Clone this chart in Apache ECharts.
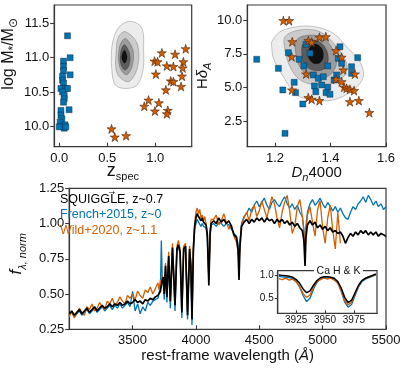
<!DOCTYPE html>
<html>
<head>
<meta charset="utf-8">
<script src="https://cdn.jsdelivr.net/npm/echarts@6/dist/echarts.min.js"></script>
<style>
html, body { margin: 0; padding: 0; background: #fff; }
#chart { width: 407px; height: 372px; }
</style>
</head>
<body>
<div id="chart"></div>
<script>
// ---- top left: stellar mass vs redshift ----
var frenchZ    = [0.087, 0.114, 0.114, 0.045, 0.045, 0.045, 0.035, 0.035, 0.045, 0.018, 0.069, 0.087, 0.035, 0.052, 0.052, 0.045, 0.103, 0.018, 0.018, 0.028, 0.010, 0.018, 0.060, 0.052, 0.069, 0.000];
var frenchMass = [11.32, 11.00, 10.75, 10.95, 10.87, 10.81, 10.73, 10.67, 10.63, 10.55, 10.55, 10.55, 10.50, 10.45, 10.40, 10.35, 10.24, 10.23, 10.16, 10.11, 10.06, 10.00, 10.02, 9.97, 9.99, 9.99];
var wildZ    = [1.317, 1.069, 1.207, 0.993, 1.024, 1.293, 1.121, 1.189, 1.286, 1.007, 1.279, 1.162, 1.189, 1.269, 1.111, 0.931, 1.038, 0.886, 1.131, 0.997, 1.121, 0.545, 0.579, 0.697];
var wildMass = [11.13, 11.07, 11.05, 10.95, 10.94, 10.94, 10.88, 10.87, 10.85, 10.76, 10.73, 10.66, 10.65, 10.58, 10.53, 10.38, 10.34, 10.29, 10.23, 10.22, 10.18, 9.96, 9.84, 9.86];
// SQUIGGLE density contours (outer -> inner), [z, logM]
var kdeMass = [
  [[0.759, 11.53], [0.862, 11.43], [0.879, 11.11], [0.873, 10.82], [0.811, 10.60], [0.690, 10.55], [0.586, 10.60], [0.552, 10.77], [0.545, 11.11], [0.586, 11.36], [0.656, 11.49]],
  [[0.690, 11.38], [0.811, 11.21], [0.817, 10.87], [0.724, 10.65], [0.604, 10.77], [0.594, 11.11], [0.620, 11.31]],
  [[0.690, 11.28], [0.769, 11.11], [0.759, 10.87], [0.700, 10.75], [0.628, 10.87], [0.628, 11.16]],
  [[0.679, 11.19], [0.734, 11.06], [0.728, 10.89], [0.683, 10.82], [0.638, 10.92], [0.641, 11.09]],
  [[0.679, 11.11], [0.707, 11.01], [0.683, 10.92], [0.651, 11.00]]
];

// ---- top right: Hdelta_A vs Dn4000 ----
var frenchDn = [1.134, 1.212, 1.248, 1.269, 1.228, 1.274, 1.287, 1.304, 1.300, 1.312, 1.338, 1.342, 1.356, 1.347, 1.374, 1.368, 1.390, 1.384, 1.398, 1.390, 1.413, 1.428, 1.434, 1.440, 1.476, 1.476, 1.498, 1.236, 1.326, 1.422];
var frenchHd = [7.09, 6.42, 7.58, 5.39, 4.82, 4.62, 7.09, 6.60, 3.78, 8.20, 5.93, 5.11, 5.68, 4.69, 5.80, 5.19, 5.02, 4.62, 4.50, 6.60, 5.56, 7.16, 8.02, 6.79, 6.54, 6.05, 7.21, 1.61, 7.54, 5.93];
var wildDn = [1.230, 1.251, 1.262, 1.320, 1.332, 1.360, 1.383, 1.260, 1.312, 1.261, 1.320, 1.332, 1.360, 1.420, 1.440, 1.446, 1.420, 1.440, 1.449, 1.458, 1.470, 1.485, 1.488, 1.470, 1.502, 1.540];
var wildHd = [9.95, 9.95, 8.39, 8.47, 8.35, 8.72, 8.76, 7.28, 6.00, 4.82, 4.25, 4.13, 4.03, 7.73, 7.24, 6.30, 5.61, 5.43, 5.02, 4.94, 4.87, 4.77, 6.00, 3.95, 4.03, 3.14];
var kdeIdx = [
  [[1.188, 8.39], [1.218, 9.13], [1.278, 9.50], [1.344, 9.50], [1.410, 9.02], [1.458, 8.02], [1.506, 6.91], [1.518, 5.80], [1.482, 4.82], [1.410, 4.08], [1.338, 4.08], [1.278, 4.45], [1.230, 5.80], [1.194, 7.17], [1.188, 8.02]],
  [[1.236, 8.76], [1.290, 9.26], [1.362, 9.13], [1.422, 8.02], [1.458, 6.80], [1.452, 5.93], [1.410, 5.32], [1.350, 5.19], [1.290, 5.56], [1.254, 6.54], [1.236, 7.78]],
  [[1.278, 8.52], [1.326, 8.89], [1.374, 8.65], [1.410, 7.78], [1.422, 6.80], [1.398, 5.93], [1.350, 5.69], [1.302, 6.17], [1.278, 7.17]],
  [[1.302, 8.28], [1.338, 8.52], [1.374, 8.15], [1.392, 7.28], [1.380, 6.43], [1.344, 6.25], [1.308, 6.67], [1.296, 7.54]],
  [[1.344, 8.22], [1.368, 7.91], [1.374, 7.28], [1.362, 6.84], [1.338, 6.80], [1.320, 7.28], [1.324, 7.91]]
];

// ---- bottom: stacked spectra ----
var wave = [
  3000, 3020, 3040, 3060, 3080, 3100, 3120, 3140, 3160, 3180, 3200, 3220, 3240, 3260, 3280, 3300, 3320, 3340, 3360, 3380, 3400, 3420, 3440, 3460, 3480, 3500, 3520, 3540, 3560, 3580, 3600, 3620, 3640, 3660, 3680, 3700,
  3710, 3720, 3727, 3735, 3742, 3750, 3760, 3771, 3785, 3798, 3815, 3835, 3850, 3862, 3875, 3889, 3903, 3918, 3934, 3950, 3960, 3969, 3980, 3990, 4000, 4010, 4020, 4030, 4040, 4050, 4060, 4070, 4080, 4090, 4102, 4112, 4120,
  4140, 4160, 4180, 4200, 4220, 4240, 4260, 4280, 4300, 4320, 4332, 4340, 4348, 4360, 4380, 4400, 4420, 4440, 4460, 4480, 4500, 4520, 4540, 4560, 4580, 4600, 4620, 4640, 4660, 4680, 4700, 4720, 4740, 4760, 4780, 4800, 4820, 4840, 4852, 4861, 4868, 4880, 4900, 4920, 4940, 4960, 4980, 5000, 5020, 5040, 5060, 5080, 5100, 5120, 5140, 5160, 5180, 5200, 5220, 5240, 5260, 5280, 5300, 5320, 5340, 5360, 5380, 5400, 5420, 5440, 5460, 5480, 5500
];
var squiggle = [
  .36, .38, .35, .37, .39, .36, .38, .40, .37, .39, .41, .38, .40, .42, .40, .41, .43, .41, .43, .42, .44, .42, .43, .45, .43, .44, .46, .44, .45, .43, .46, .45, .47, .46, .48, .49,
  .50, .52, .53, .60, .62, .50, .70, .48, .77, .45, .83, .42, .82, .85, .80, .37, .82, .84, .35, .82, .70, .32, .82, .98, 1.04, 1.07, 1.05, 1.06, 1.02, 1.04, 1.01, 1.02, .99, .92, .56, .93, 1.00,
  1.02, 1.00, 1.04, 1.01, 1.03, 1.00, 1.02, .98, .92, .90, .82, .60, .84, .98, 1.01, 1.03, 1.00, 1.03, 1.01, 1.04, 1.02, 1.04, 1.01, 1.04, 1.02, 1.03, 1.00, 1.03, 1.01, 1.03, 1.00, 1.02, .99, 1.01, .98, 1.00, .97, .95, .88, .70, .90, .99, 1.02, .99, 1.01, .97, .99, .96, .98, .95, .97, .94, .95, .93, .94, .91, .86, .90, .93, .91, .94, .92, .95, .93, .95, .92, .94, .92, .94, .91, .93, .92, .91
];
var french = [
  .35, .37, .34, .36, .38, .35, .37, .39, .36, .38, .40, .37, .39, .41, .38, .40, .42, .39, .42, .40, .43, .40, .42, .44, .41, .52, .38, .43, .36, .41, .38, .44, .42, .45, .46, .47,
  .48, .55, .88, .58, .60, .46, .68, .44, .76, .40, .82, .38, .80, .84, .78, .33, .80, .82, .32, .80, .66, .28, .80, .96, 1.00, 1.03, 1.01, 1.02, .98, 1.00, .98, .99, .97, .90, .60, .92, .99,
  1.00, .98, 1.01, 1.00, .98, 1.00, .99, .96, .93, .91, .86, .78, .88, 1.00, 1.05, 1.07, 1.11, 1.08, 1.13, 1.16, 1.12, 1.15, 1.18, 1.13, 1.10, 1.15, 1.17, 1.14, 1.12, 1.16, 1.19, 1.14, 1.11, 1.14, 1.10, 1.13, 1.08, 1.05, .96, .78, .98, 1.08, 1.14, 1.17, 1.13, 1.15, 1.18, 1.14, 1.11, 1.15, 1.12, 1.09, 1.12, 1.08, 1.11, 1.07, 1.04, 1.03, 1.08, 1.12, 1.10, 1.14, 1.16, 1.19, 1.15, 1.20, 1.17, 1.13, 1.16, 1.12, 1.14, 1.10, 1.12
];
var wild = [
  .34, .38, .33, .36, .40, .37, .35, .41, .39, .43, .38, .40, .44, .41, .39, .45, .43, .47, .42, .44, .48, .45, .43, .49, .47, .50, .46, .52, .49, .47, .53, .51, .55, .50, .54, .58,
  .53, .60, .56, .63, .64, .52, .72, .50, .80, .47, .86, .44, .84, .88, .82, .40, .84, .86, .38, .84, .72, .34, .84, 1.00, 1.08, 1.11, 1.07, 1.10, 1.04, 1.06, 1.02, 1.05, 1.00, .93, .60, .95, 1.03,
  1.03, 1.06, .99, 1.02, 1.07, 1.01, .96, .99, .91, .87, .80, .72, .86, .99, 1.04, 1.08, 1.02, 1.10, 1.13, 1.05, 1.09, 1.16, 1.10, 1.04, 1.12, 1.19, 1.14, 1.04, .97, 1.08, 1.15, 1.20, 1.09, .93, .98, 1.12, 1.17, 1.05, .94, .78, .92, 1.06, 1.12, 1.01, .91, 1.10, 1.16, .97, .86, 1.04, 1.13, .95, .82, 1.08, .86
];

// inset: Ca H & K
var insetWave = [3910, 3913, 3916, 3919, 3922, 3925, 3928, 3931, 3934, 3937, 3940, 3943, 3946, 3949, 3952, 3955, 3958, 3961, 3964, 3967, 3970, 3973, 3976, 3979, 3982, 3985, 3988, 3991, 3994];
var insetSquiggle = [1.00, .99, .98, .97, .95, .90, .82, .70, .62, .66, .78, .88, .94, .96, .96, .95, .93, .86, .72, .52, .41, .46, .62, .78, .88, .93, .96, .99, 1.02];
var insetFrench   = [.97, .96, .95, .94, .92, .86, .74, .56, .43, .50, .70, .84, .91, .93, .94, .93, .91, .83, .65, .42, .31, .37, .56, .74, .86, .91, .94, .97, 1.00];
var insetWild     = [.92, .90, .93, .89, .91, .85, .76, .60, .52, .57, .74, .86, .90, .94, .91, .93, .89, .82, .66, .46, .36, .42, .60, .76, .88, .92, .95, .98, 1.01];

// tick labels
var zTicks = [0, 0.5, 1.0];
var massTicks = [10.0, 10.5, 11.0, 11.5];
var dnTicks = [1.2, 1.4, 1.6];
var hdTicks = [2.5, 5.0, 7.5, 10.0];
var waveTicks = [3500, 4000, 4500, 5000, 5500];
var fluxTicks = [0.25, 0.50, 0.75, 1.00, 1.25];
var insetWaveTicks = [3925, 3950, 3975];
var insetFluxTicks = [0.5, 1.0];

// ---- styles ----
var font = "'Liberation Sans', Arial, 'DejaVu Sans', sans-serif";
var frame = '#383838';
var txt = '#111';
var blue = '#0173B2';
var orange = '#D55E00';
var kdeColors = ['#ececec', '#cbcbcb', '#9c9c9c', '#5c5c5c', '#111111'];
var starPath = 'path://M50 0L61.2 34.5H97.6L68.2 55.9L79.4 90.5L50 69.1L20.6 90.5L31.8 55.9L2.4 34.5H38.8Z';

function zip(xs, ys) {
  var out = [];
  for (var i = 0; i < xs.length; i++) {
    if (ys[i] != null) out.push([xs[i], ys[i]]);
  }
  return out;
}

var rich = {
  n:  { fontSize: 15, fontFamily: font, color: txt, verticalAlign: 'bottom', padding: [0, 0, 3, 0] },
  ni: { fontSize: 15, fontFamily: font, color: txt, fontStyle: 'italic', verticalAlign: 'bottom', padding: [0, 0, 3, 0] },
  nb: { fontSize: 16, fontFamily: font, color: txt, verticalAlign: 'bottom', padding: [0, 0, 3, 0] },
  fb: { fontSize: 17, fontFamily: font, color: txt, fontStyle: 'italic', verticalAlign: 'bottom', padding: [0, 0, 3, 0] },
  zb: { fontSize: 18, fontFamily: font, color: txt, verticalAlign: 'bottom', padding: [0, 0, 3, 0] },
  s:  { fontSize: 11, fontFamily: font, color: txt, verticalAlign: 'bottom' },
  sb: { fontSize: 12, fontFamily: font, color: txt, verticalAlign: 'bottom' },
  si: { fontSize: 11, fontFamily: font, color: txt, fontStyle: 'italic', verticalAlign: 'bottom' }
};

function axis(grid, min, max, ticks, digits, inside, opt) {
  opt = opt || {};
  var fs = opt.fontSize || 13;
  var ax = {
    type: 'value', gridIndex: grid, min: min, max: max,
    splitLine: { show: false },
    axisLine: { show: true, onZero: false, lineStyle: { color: frame, width: 1.2 } },
    axisTick: { show: true, inside: inside, length: opt.tick || 4, customValues: ticks, lineStyle: { color: frame, width: 1.1 } },
    axisLabel: {
      customValues: ticks, margin: opt.margin || 5, color: txt, fontSize: fs, fontFamily: font,
      formatter: function (v) { return v.toFixed(digits); }
    },
    name: opt.name || '', nameLocation: 'middle', nameGap: opt.gap || 20,
    nameTextStyle: { rich: rich, fontFamily: font, fontSize: 15, color: txt, padding: opt.pad || 0 }
  };
  if (opt.fixed) ax.nameMoveOverlap = false;
  return ax;
}

function contour(levels, xi, yi) {
  return {
    type: 'custom', xAxisIndex: xi, yAxisIndex: yi, silent: true, clip: true, z: 1,
    data: levels.map(function (l) { return l[0]; }),
    renderItem: function (params, api) {
      var pts = levels[params.dataIndex].map(function (p) { return api.coord(p); });
      return {
        type: 'polygon',
        shape: { points: pts, smooth: 0.35 },
        style: { fill: kdeColors[params.dataIndex], stroke: 'rgba(0,0,0,0.35)', lineWidth: 0.6 }
      };
    }
  };
}

function squares(xs, ys, xi, yi) {
  return {
    type: 'scatter', xAxisIndex: xi, yAxisIndex: yi, z: 3,
    symbol: 'rect', symbolSize: 6,
    itemStyle: { color: blue, borderColor: '#123', borderWidth: 0.4, opacity: 1 },
    data: zip(xs, ys)
  };
}

function stars(xs, ys, xi, yi) {
  return {
    type: 'scatter', xAxisIndex: xi, yAxisIndex: yi, z: 4,
    symbol: starPath, symbolSize: 9,
    itemStyle: { color: orange, borderColor: '#4a2208', borderWidth: 0.6, opacity: 1 },
    data: zip(xs, ys)
  };
}

function spec(xs, ys, color, width, xi, yi) {
  return {
    type: 'line', xAxisIndex: xi, yAxisIndex: yi, showSymbol: false, symbol: 'none',
    lineStyle: { color: color, width: width }, data: zip(xs, ys)
  };
}

var chart = echarts.init(document.getElementById('chart'));
chart.setOption({
  animation: false,
  backgroundColor: '#fff',
  grid: [
    { left: 53.3, top: 5, width: 138.4, height: 141.7, show: true, borderColor: frame, borderWidth: 1.2 },
    { left: 247.3, top: 5, width: 138.7, height: 141.7, show: true, borderColor: frame, borderWidth: 1.2 },
    { left: 53.3, top: 188.3, width: 332.7, height: 141, show: true, borderColor: frame, borderWidth: 1.2 },
    { left: 277.7, top: 270.7, width: 99.3, height: 42.6, show: true, borderColor: frame, borderWidth: 1.2, backgroundColor: '#fff' }
  ],
  xAxis: [
    axis(0, -0.052, 1.38, zTicks, 1, true, { name: '{zb|z}{s|spec}', gap: 15, fixed: true }),
    axis(1, 1.1, 1.6, dnTicks, 1, true, { name: '{ni|D}{si|n}{n|4000}', gap: 15 }),
    axis(2, 3000, 5500, waveTicks, 0, true, { name: '{n|rest-frame wavelength (}{ni|Å}{n|)}', gap: 18 }),
    axis(3, 3909, 3995, insetWaveTicks, 0, true, { fontSize: 10, margin: 2, tick: 3 })
  ],
  yAxis: [
    axis(0, 9.7, 11.77, massTicks, 1, false, { name: '{nb|log M}{sb|*}{nb|/M}{sb|⊙}', gap: 31, pad: [0, 0, 0, 44] }),
    axis(1, 0.62, 11.11, hdTicks, 1, false, { name: '{n|H}{ni|δ}{si|A}', gap: 27 }),
    axis(2, 0.25, 1.25, fluxTicks, 2, false, { name: '{fb|f}{si|λ, norm}', gap: 33, pad: [0, 0, 0, 10] }),
    axis(3, 0.18, 1.09, insetFluxTicks, 1, false, { fontSize: 10, margin: 4, tick: 3 })
  ],
  graphic: [
    { type: 'text', x: 60, y: 199.5, z: 50, style: { text: 'SQUIGGL\u20D7E, z~0.7', fill: '#000', fontSize: 12.5, fontFamily: font, verticalAlign: 'middle' } },
    { type: 'text', x: 60, y: 214.6, z: 50, style: { text: 'French+2015, z~0', fill: blue, fontSize: 12.5, fontFamily: font, verticalAlign: 'middle' } },
    { type: 'text', x: 60, y: 230.8, z: 50, style: { text: 'Wild+2020, z~1.1', fill: orange, fontSize: 12.5, fontFamily: font, verticalAlign: 'middle' } },
    { type: 'rect', z: 60, shape: { x: 314, y: 266, width: 49, height: 10 }, style: { fill: '#fff' } },
    { type: 'text', x: 338.5, y: 271.5, z: 61, style: { text: 'Ca H & K', fill: txt, fontSize: 10.5, fontFamily: font, align: 'center', verticalAlign: 'middle' } }
  ],
  series: [
    contour(kdeMass, 0, 0),
    squares(frenchZ, frenchMass, 0, 0),
    stars(wildZ, wildMass, 0, 0),
    contour(kdeIdx, 1, 1),
    squares(frenchDn, frenchHd, 1, 1),
    stars(wildDn, wildHd, 1, 1),
    spec(wave, french, blue, 1.3, 2, 2),
    spec(wave, wild, orange, 1.3, 2, 2),
    spec(wave, squiggle, '#000', 1.7, 2, 2),
    spec(insetWave, insetFrench, blue, 1.3, 3, 3),
    spec(insetWave, insetWild, orange, 1.3, 3, 3),
    spec(insetWave, insetSquiggle, '#000', 1.5, 3, 3)
  ]
});
</script>
</body>
</html>
